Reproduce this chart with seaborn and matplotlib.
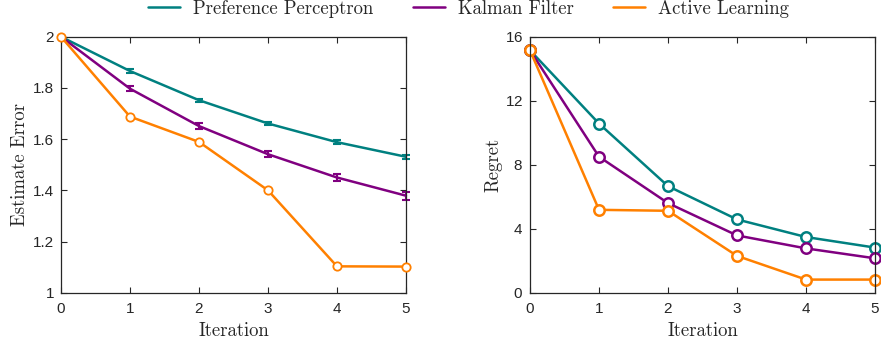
import numpy as np
import pandas as pd
import seaborn as sns
import matplotlib.pyplot as plt
from matplotlib.lines import Line2D

# values
iterations = [0, 1, 2, 3, 4, 5]
methods = ["Preference Perceptron", "Kalman Filter", "Active Learning"]
colors = ["#008080", "#800080", "#FF8000"]

err_perceptron = [2.0, 1.866, 1.752, 1.661, 1.588, 1.531]
err_kalman = [2.0, 1.797, 1.651, 1.541, 1.450, 1.379]
err_active = [2.0, 1.688, 1.589, 1.400, 1.103, 1.102]
sd_perceptron = [0.0, 0.006, 0.006, 0.006, 0.007, 0.008]
sd_kalman = [0.0, 0.010, 0.011, 0.012, 0.012, 0.016]

reg_perceptron = [15.15, 10.57, 6.66, 4.58, 3.48, 2.82]
reg_kalman = [15.15, 8.50, 5.60, 3.58, 2.77, 2.15]
reg_active = [15.15, 5.18, 5.12, 2.30, 0.82, 0.82]

sns.set_style("ticks")
plt.rcParams["font.family"] = ["Liberation Sans", "DejaVu Sans"]
plt.rcParams["mathtext.fontset"] = "cm"
serif = ["cmr10", "DejaVu Serif"]
plt.rcParams["axes.formatter.use_mathtext"] = True

edge = "#262626"
fig = plt.figure(figsize=(8.81, 3.49), dpi=100)
ax1 = fig.add_axes([0.0692, 0.1613, 0.3916, 0.7335])
ax2 = fig.add_axes([0.6016, 0.1613, 0.3916, 0.7335])

# left panel: estimate error
err_df = pd.DataFrame({"Iteration": iterations * 3,
                       "value": err_perceptron + err_kalman + err_active,
                       "method": np.repeat(methods, len(iterations))})
sns.lineplot(data=err_df, x="Iteration", y="value", hue="method", hue_order=methods,
             palette=colors, linewidth=1.8, legend=False, ax=ax1)
ax1.errorbar(iterations[1:], err_perceptron[1:], yerr=sd_perceptron[1:], fmt="none",
             ecolor=colors[0], elinewidth=1.5, capsize=3, capthick=1.5)
ax1.errorbar(iterations[1:], err_kalman[1:], yerr=sd_kalman[1:], fmt="none",
             ecolor=colors[1], elinewidth=1.5, capsize=3, capthick=1.5)
ax1.plot(iterations, err_active, "o", color=colors[2], mfc="white", mec=colors[2],
         ms=6, mew=1.3, zorder=5)
ax1.set_ylim(1, 2)
ax1.set_yticks([1, 1.2, 1.4, 1.6, 1.8, 2])
ax1.set_yticklabels(["1", "1.2", "1.4", "1.6", "1.8", "2"])
ax1.set_ylabel("Estimate Error", family=serif, fontsize=13.5, labelpad=3)

# right panel: regret
reg_df = pd.DataFrame({"Iteration": iterations * 3,
                       "value": reg_perceptron + reg_kalman + reg_active,
                       "method": np.repeat(methods, len(iterations))})
sns.lineplot(data=reg_df, x="Iteration", y="value", hue="method", hue_order=methods,
             palette=colors, linewidth=1.8, marker="o", markersize=7.5,
             markerfacecolor="white", markeredgewidth=1.8, legend=False, ax=ax2)
for line, c in zip(ax2.get_lines(), colors):
    line.set_markeredgecolor(c)
ax2.set_ylim(0, 16)
ax2.set_yticks([0, 4, 8, 12, 16])
ax2.set_ylabel("Regret", family=serif, fontsize=13.5, labelpad=2)

for ax in (ax1, ax2):
    ax.set_xlim(0, 5)
    ax.set_xticks(iterations)
    ax.set_xlabel("Iteration", family=serif, fontsize=13.5, labelpad=4)
    ax.tick_params(direction="in", top=True, right=True, length=4, width=0.8,
                   colors=edge, labelsize=11)
    ax.tick_params(axis="x", pad=7)
    ax.tick_params(axis="y", pad=5)
    for s in ax.spines.values():
        s.set_visible(True)
        s.set_color(edge)
        s.set_linewidth(0.9)
    for line in ax.get_lines():
        line.set_clip_on(False)

handles = [Line2D([0], [0], color=c, lw=1.8) for c in colors]
fig.legend(handles, methods, loc="center", bbox_to_anchor=(0.532, 0.975), ncol=3,
           frameon=False, prop={"family": serif, "size": 13.5}, handlelength=1.7,
           columnspacing=2.1, handletextpad=0.7)

fig.savefig("out.png", dpi=100)
